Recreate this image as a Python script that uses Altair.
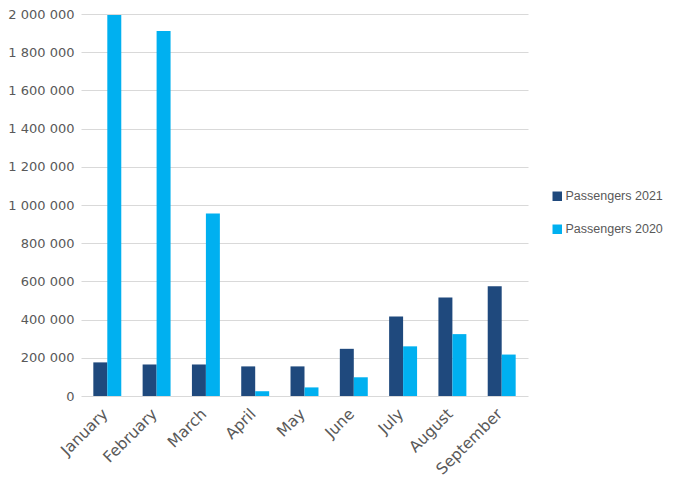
import altair as alt
import pandas as pd

months = ["January", "February", "March", "April", "May", "June", "July", "August", "September"]
passengers_2021 = [176000, 165000, 165000, 155000, 155000, 247000, 416000, 516000, 574000]
passengers_2020 = [1995000, 1911000, 956000, 25000, 45000, 98000, 260000, 324000, 217000]
series = ["Passengers 2021", "Passengers 2020"]
colors = ["#1F497D", "#00B0F0"]
y_ticks = list(range(0, 2000001, 200000))

rows = []
for i, m in enumerate(months):
    rows.append({"month": m, "series": series[0], "value": passengers_2021[i]})
    rows.append({"month": m, "series": series[1], "value": passengers_2020[i]})
df = pd.DataFrame(rows)

font = "DejaVu Sans"

chart = alt.Chart(df).mark_bar().encode(
    x=alt.X("month:N", sort=months, title=None,
            scale=alt.Scale(paddingInner=0.433, paddingOuter=0.25),
            axis=alt.Axis(labelAngle=315, labelFontSize=15.5, labelColor="#595959",
                          labelFont=font, ticks=False, domain=False, labelPadding=10,
                          labelOffset=-7, grid=False)),
    xOffset=alt.XOffset("series:N", sort=series),
    y=alt.Y("value:Q", title=None,
            scale=alt.Scale(domain=[0, 2000000], nice=False),
            axis=alt.Axis(values=y_ticks, ticks=False, domain=False,
                          gridColor="#D9D9D9", gridWidth=1,
                          labelFontSize=13, labelColor="#595959", labelFont=font,
                          labelPadding=7,
                          labelExpr="replace(format(datum.value, ','), regexp(',', 'g'), ' ')")),
    color=alt.Color("series:N", sort=series,
                    scale=alt.Scale(domain=series, range=colors),
                    legend=alt.Legend(title=None, orient="none", legendX=470, legendY=176,
                                      symbolType="square", symbolSize=90,
                                      symbolStrokeWidth=0,
                                      labelFont="Liberation Sans", labelFontSize=12.5,
                                      labelColor="#595959", rowPadding=20,
                                      labelOffset=2)),
).properties(
    width=447,
    height=382,
    autosize=alt.AutoSizeParams(type="none"),
    padding={"left": 73, "top": 6, "right": 140, "bottom": 85},
).configure_view(stroke=None)

chart.save("out.html", embed_options={"renderer": "svg", "actions": False})
